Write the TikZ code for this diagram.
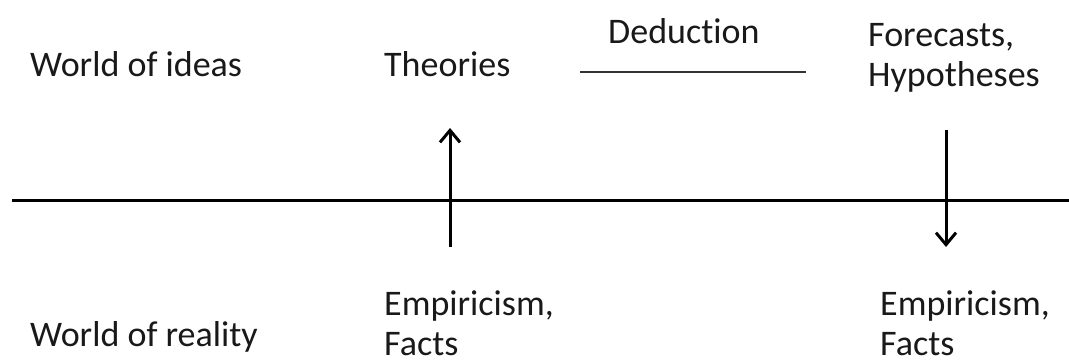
\documentclass[tikz,border=0pt]{standalone}
\usepackage{fontspec}
\setmainfont{Carlito}[Ligatures=NoCommon]
\usetikzlibrary{arrows.meta}
\begin{document}
\begin{tikzpicture}[x=1pt,y=-1pt,
  lbl/.style={anchor=base west,inner sep=0pt,font=\fontsize{36}{40}\selectfont,text=black!90},
  axis/.style={line width=3pt,black},
  arr/.style={line width=3pt,black,-{Straight Barb[length=12pt,width=20pt,line width=3pt]}}]
\useasboundingbox (0,0) rectangle (1069,362);
\node[lbl] (ideas) at (30,76) {World of ideas};
\node[lbl] (theories) at (384,76) {Theories};
\node[lbl] (deduction) at (608,43) {Deduction};
\node[lbl] (forecasts) at (868,46) {Forecasts,};
\node[lbl] (hypotheses) at (868,86) {Hypotheses};
\node[lbl] (emp1) at (384,315) {Empiricism,};
\node[lbl] (facts1) at (384,355) {Facts};
\node[lbl] (reality) at (30,346) {World of reality};
\node[lbl] (emp2) at (880,315) {Empiricism,};
\node[lbl] (facts2) at (880,355) {Facts};
\coordinate (axL) at (12,200);
\coordinate (axR) at (1069,200);
\coordinate (upB) at (450,247);
\coordinate (upT) at (450,128);
\coordinate (dnT) at (946,130);
\coordinate (dnB) at (946,247);
\coordinate (dedL) at (580,72);
\coordinate (dedR) at (806,72);
\draw[axis] (axL) -- (axR);
\draw[arr] (upB) -- (upT);
\draw[arr] (dnT) -- (dnB);
\draw[line width=2pt,black!80] (dedL) -- (dedR);
\end{tikzpicture}
\end{document}
